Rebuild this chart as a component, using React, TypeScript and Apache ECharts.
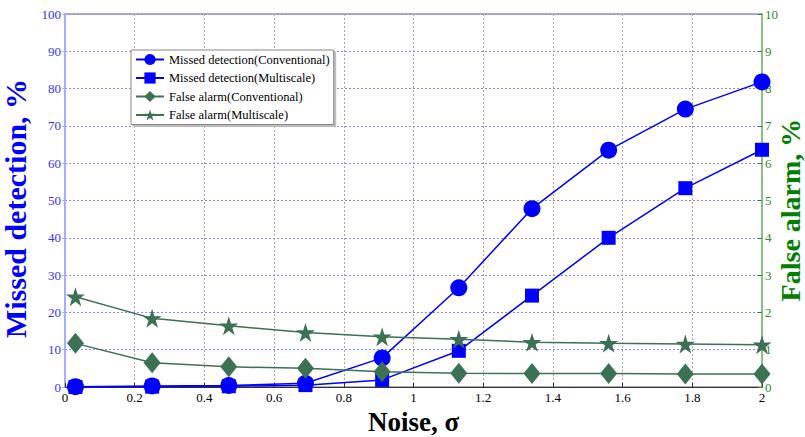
import React, { useEffect, useRef } from "react";
import * as echarts from "echarts";

const noise = [0.03, 0.25, 0.47, 0.69, 0.91, 1.13, 1.34, 1.56, 1.78, 2.0];
const missedConventional = [0.1, 0.3, 0.4, 1.0, 7.8, 26.6, 47.8, 63.5, 74.5, 81.8];
const missedMultiscale = [0.0, 0.1, 0.2, 0.5, 1.9, 9.7, 24.5, 40.0, 53.3, 63.6];
const falseConventional = [1.17, 0.65, 0.54, 0.5, 0.41, 0.37, 0.36, 0.36, 0.35, 0.35];
const falseMultiscale = [2.42, 1.84, 1.64, 1.46, 1.35, 1.28, 1.2, 1.17, 1.15, 1.13];
const legendNames = [
  "Missed detection(Conventional)",
  "Missed detection(Multiscale)",
  "False alarm(Conventional)",
  "False alarm(Multiscale)",
];
const rightAxisTitle = "False alarm, %";

const STAR =
  "path://M50 0 L61.2 34.6 L97.6 34.5 L68.1 55.9 L79.4 90.5 L50 69 L20.6 90.5 L31.9 55.9 L2.4 34.5 L38.8 34.6 Z";

const BLUE = "#0000ff";
const GREEN_LINE = "#3c7153";
const SERIF = "'Liberation Serif', 'Times New Roman', serif";

const pairs = (ys: number[]) => noise.map((x, i) => [x, ys[i]]);

export default function App() {
  const ref = useRef<HTMLDivElement>(null);
  useEffect(() => {
    if (!ref.current) return;
    const chart = echarts.init(ref.current, undefined, { renderer: "svg" });
    chart.setOption({
      animation: false,
      backgroundColor: "#ffffff",
      textStyle: { fontFamily: SERIF },
      grid: {
        left: 65,
        right: 43,
        top: 14,
        bottom: 50,
        outerBoundsMode: "none",
        containLabel: false,
        show: true,
        borderColor: "#999999",
        borderWidth: 1.5,
      },
      graphic: [
        {
          type: "text",
          x: 790,
          y: 210,
          rotation: Math.PI / 2,
          style: {
            text: rightAxisTitle,
            font: `bold 28px ${SERIF}`,
            fill: "#008000",
            textAlign: "center",
            textVerticalAlign: "middle",
          },
        },
      ],
      legend: {
        orient: "vertical",
        left: 131,
        top: 50,
        data: legendNames,
        backgroundColor: "#ffffff",
        borderColor: "#888888",
        borderWidth: 1,
        shadowColor: "#bbbbbb",
        shadowBlur: 0,
        shadowOffsetX: 2,
        shadowOffsetY: 2,
        padding: [3, 4, 3, 4],
        itemGap: 5.5,
        itemWidth: 28,
        itemHeight: 14,
        textStyle: { fontFamily: SERIF, fontSize: 12.5, color: "#000000" },
      },
      xAxis: {
        type: "value",
        min: 0,
        max: 2,
        interval: 0.2,
        name: "Noise, σ",
        nameLocation: "middle",
        nameGap: 16,
        nameTextStyle: { fontFamily: SERIF, fontSize: 27, fontWeight: "bold", color: "#000000" },
        axisLine: { show: true, lineStyle: { color: "#333333", width: 1 } },
        axisTick: { show: true, inside: true, length: 4, lineStyle: { color: "#333333" } },
        axisLabel: { fontFamily: SERIF, fontSize: 13, color: "#000000", margin: 4 },
        splitLine: { show: true, lineStyle: { type: [2, 2], color: "#aaaaaa" } },
      },
      yAxis: [
        {
          type: "value",
          min: 0,
          max: 100,
          interval: 10,
          position: "left",
          name: "Missed detection, %",
          nameLocation: "middle",
          nameGap: 26,
          nameRotate: 90,
          nameTextStyle: {
            fontFamily: SERIF,
            fontSize: 30,
            fontWeight: "bold",
            color: BLUE,
            padding: [0, 16, 0, 0],
          },
          axisLine: { show: true, lineStyle: { color: "#aaaaff", width: 2 } },
          axisTick: { show: true, length: 3, lineStyle: { color: "#aaaaff" } },
          axisLabel: { fontFamily: SERIF, fontSize: 13, color: "#3333ff", margin: 4 },
          splitLine: { show: true, lineStyle: { type: [2, 2], color: "#8888ff" } },
        },
        {
          type: "value",
          min: 0,
          max: 10,
          interval: 1,
          position: "right",
          axisLine: { show: true, lineStyle: { color: "#80c080", width: 1.5 } },
          axisTick: { show: true, inside: true, length: 4, lineStyle: { color: "#2e8b2e" } },
          axisLabel: { fontFamily: SERIF, fontSize: 13, color: "#2e8b2e", margin: 3 },
          splitLine: { show: false },
        },
      ],
      series: [
        {
          name: legendNames[0],
          type: "line",
          yAxisIndex: 0,
          data: pairs(missedConventional),
          symbol: "circle",
          symbolSize: 17,
          lineStyle: { color: BLUE, width: 1.5 },
          itemStyle: { color: BLUE },
        },
        {
          name: legendNames[1],
          type: "line",
          yAxisIndex: 0,
          data: pairs(missedMultiscale),
          symbol: "rect",
          symbolSize: 14,
          lineStyle: { color: BLUE, width: 1.5 },
          itemStyle: { color: BLUE },
        },
        {
          name: legendNames[2],
          type: "line",
          yAxisIndex: 1,
          data: pairs(falseConventional),
          symbol: "diamond",
          symbolSize: [17, 21],
          lineStyle: { color: GREEN_LINE, width: 1.5 },
          itemStyle: { color: GREEN_LINE },
        },
        {
          name: legendNames[3],
          type: "line",
          yAxisIndex: 1,
          data: pairs(falseMultiscale),
          symbol: STAR,
          symbolSize: 19,
          lineStyle: { color: GREEN_LINE, width: 1.5 },
          itemStyle: { color: GREEN_LINE },
        },
      ],
    });
    return () => chart.dispose();
  }, []);
  return <div ref={ref} style={{ width: 805, height: 437, position: "absolute", left: 0, top: 0 }} />;
}
